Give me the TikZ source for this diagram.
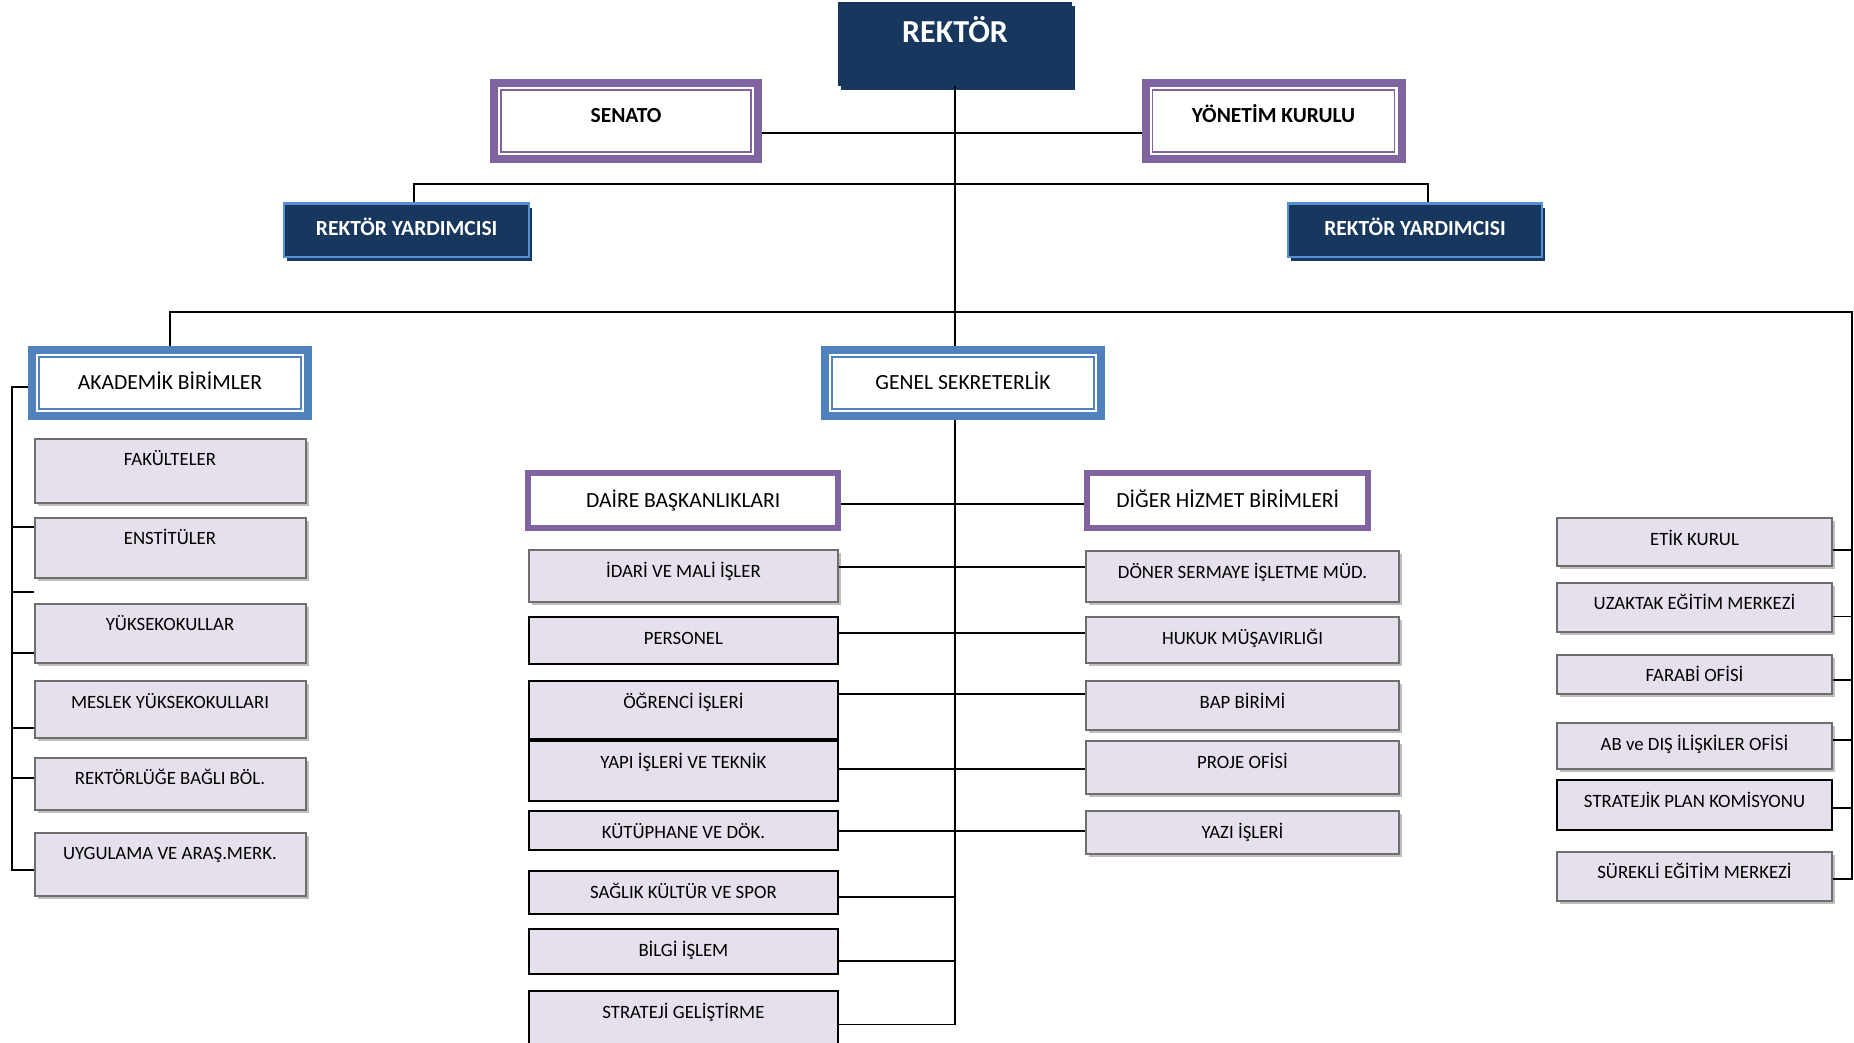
\documentclass[tikz,border=0pt]{standalone}
\usepackage{fontspec}
\setmainfont{Carlito}
\usetikzlibrary{shadows}

\definecolor{lacivert}{HTML}{17375E}
\definecolor{mor}{HTML}{8064A2}
\definecolor{mavi}{HTML}{4F81BD}
\definecolor{acikmavi}{HTML}{558ED5}
\definecolor{lavanta}{HTML}{E5E0EC}
\definecolor{gricizgi}{HTML}{6E6E6E}
\definecolor{golge}{HTML}{BFBFBF}

\tikzset{
	hat/.style={line width=1.6pt},
	kutu/.style 2 args={anchor=north, inner ysep=0pt, text height=#1pt, text depth=#2pt},
	rektorkutu/.style={fill=lacivert, text=white, font=\bfseries\fontsize{32}{38}\selectfont,
		drop shadow={shadow xshift=3pt, shadow yshift=-4pt, fill=lacivert, opacity=1}},
	yardimci/.style={fill=lacivert, draw=acikmavi, line width=2pt, text=white,
		font=\bfseries\fontsize{21.5}{26}\selectfont,
		drop shadow={shadow xshift=3pt, shadow yshift=-4pt, fill=lacivert, opacity=1}},
	kurul/.style={draw=mor, line width=8pt, fill=white, font=\bfseries\fontsize{21.5}{26}\selectfont},
	ana/.style={draw=mavi, line width=8pt, fill=white, font=\fontsize{21.6}{26}\selectfont},
	daire/.style={draw=mor, line width=6pt, fill=white, font=\fontsize{21.6}{26}\selectfont},
	sade/.style={kutu={27}{#1}, draw=black, line width=2pt, fill=lavanta, font=\fontsize{18.8}{22}\selectfont},
	birim/.style={sade=#1, draw=gricizgi,
		drop shadow={shadow xshift=3pt, shadow yshift=-3pt, fill=golge, opacity=1}},
}

\begin{document}
\begin{tikzpicture}[x=1pt, y=-1pt]
	\useasboundingbox (0,0) rectangle (1854,1043);

	% Ust kademe
	\node[rektorkutu, kutu={40.1}{43.9}, minimum width=233.5pt] (rektor) at (955,2) {REKTÖR};
	\node[kurul, kutu={39.6}{36.4}, minimum width=264.5pt] (senato) at (626,79) {SENATO};
	\node[kurul, kutu={39.6}{36.4}, minimum width=256pt] (yonetim) at (1273.5,79) {YÖNETİM KURULU};
	\node[yardimci, kutu={31.5}{21.5}, minimum width=244.5pt] (ryl) at (406.7,202.5) {REKTÖR YARDIMCISI};
	\node[yardimci, kutu={31.5}{21.5}, minimum width=254pt] (ryr) at (1415,202.5) {REKTÖR YARDIMCISI};

	% Ana birimler
	\node[ana, kutu={39.6}{26.4}, minimum width=276pt] (akademik) at (170,346) {AKADEMİK BİRİMLER};
	\node[ana, kutu={39.6}{26.4}, minimum width=276pt] (genel) at (963,346) {GENEL SEKRETERLİK};
	\node[daire, kutu={34.1}{20.6}, minimum width=310.5pt] (baskanlik) at (683.2,470) {DAİRE BAŞKANLIKLARI};
	\node[daire, kutu={34.1}{20.6}, minimum width=281.5pt] (diger) at (1227.7,470) {DİĞER HİZMET BİRİMLERİ};

	% Akademik birimler
	\node[birim=37.6, minimum width=271pt] (fak) at (170,437.7) {FAKÜLTELER};
	\node[birim=33.6, minimum width=271pt] (ens) at (170,516.7) {ENSTİTÜLER};
	\node[birim=32.3, minimum width=271pt] (yuk) at (170,602.7) {YÜKSEKOKULLAR};
	\node[birim=30.3, minimum width=271pt] (mes) at (170,680) {MESLEK YÜKSEKOKULLARI};
	\node[birim=25, minimum width=271pt] (rekb) at (170,756.7) {REKTÖRLÜĞE BAĞLI BÖL.};
	\node[birim=36, minimum width=271pt] (uyg) at (170,831.7) {UYGULAMA VE ARAŞ.MERK.};

	% Daire baskanliklari
	\node[birim=25, minimum width=309.6pt] (idari) at (683.4,549.3) {İDARİ VE MALİ İŞLER};
	\node[sade=20, minimum width=309.6pt] (personel) at (683.4,616) {PERSONEL};
	\node[sade=31, minimum width=309.6pt] (ogrenci) at (683.4,680) {ÖĞRENCİ İŞLERİ};
	\node[sade=32.7, minimum width=309.6pt] (yapi) at (683.4,740) {YAPI İŞLERİ VE TEKNİK};
	\node[sade=11.7, minimum width=309.6pt] (kutuphane) at (683.4,810) {KÜTÜPHANE VE DÖK.};
	\node[sade=16, minimum width=309.6pt] (saglik) at (683.4,870) {SAĞLIK KÜLTÜR VE SPOR};
	\node[sade=17.7, minimum width=309.6pt] (bilgi) at (683.4,928.3) {BİLGİ İŞLEM};
	\node[sade=28, minimum width=309.6pt] (strateji) at (683.4,990) {STRATEJİ GELİŞTİRME};

	% Diger hizmet birimleri
	\node[birim=23.7, minimum width=313pt] (doner) at (1242.5,550) {DÖNER SERMAYE İŞLETME MÜD.};
	\node[birim=19.3, minimum width=313pt] (hukuk) at (1242.5,616) {HUKUK MÜŞAVIRLIĞI};
	\node[birim=21.7, minimum width=313pt] (bap) at (1242.5,680) {BAP BİRİMİ};
	\node[birim=26, minimum width=313pt] (proje) at (1242.5,740) {PROJE OFİSİ};
	\node[birim=16, minimum width=313pt] (yazi) at (1242.5,810) {YAZI İŞLERİ};

	% Sag sutun
	\node[birim=20.8, minimum width=275.6pt] (etik) at (1694.5,517.2) {ETİK KURUL};
	\node[birim=22.8, minimum width=275.6pt] (uzaktak) at (1694.5,581.5) {UZAKTAK EĞİTİM MERKEZİ};
	\node[birim=12.4, minimum width=275.6pt] (farabi) at (1694.5,653.6) {FARABİ OFİSİ};
	\node[birim=18.7, minimum width=275.6pt] (ab) at (1694.5,722) {AB ve DIŞ İLİŞKİLER OFİSİ};
	\node[sade=22.8, minimum width=275.6pt] (stratejik) at (1694.5,779.2) {STRATEJİK PLAN KOMİSYONU};
	\node[birim=22, minimum width=275.6pt] (surekli) at (1694.5,850.5) {SÜREKLİ EĞİTİM MERKEZİ};

	% Ic cizgiler
	\foreach \n/\r in {senato/mor, yonetim/mor, akademik/mavi, genel/mavi}
		\draw[\r, line width=1.8pt] ([shift={(11pt,-11pt)}]\n.north west) rectangle ([shift={(-11pt,11pt)}]\n.south east);

	% Baglantilar
	\coordinate (kurulhat) at (955,133);
	\coordinate (yardhat) at (955,184);
	\coordinate (birimhat) at (955,312);
	\coordinate (sagust) at (1852,312);
	\coordinate (sagalt) at (1852,878.7);
	\coordinate (omurga) at (955,1024.3);
	\coordinate (solust) at (12,386.7);
	\coordinate (solalt) at (12,870);
	\coordinate (bos) at (12,592);

	\draw[hat] (rektor.south) -- (rektor.south |- genel.north);
	\draw[hat] (rektor.south |- genel.south) -- (omurga) -- (omurga -| strateji.east);
	\draw[hat] (kurulhat -| senato.east) -- (kurulhat -| yonetim.west);
	\draw[hat] ([xshift=7pt]ryl.north) |- (yardhat) -| ([xshift=13pt]ryr.north);
	\draw[hat] (akademik.north) |- (birimhat) -- (sagust) -- (sagalt) -- (sagalt -| surekli.east);
	\draw[hat] (solust -| akademik.west) -- (solust) -- (solalt) -- (solalt -| uyg.west);
	\draw[hat] (bos) -- (bos -| ens.west);

	\foreach \n/\y in {ens/526.7, yuk/652.7, mes/727.7, rekb/778}{
		\coordinate (sol) at (12,\y);
		\draw[hat] (sol) -- (sol -| \n.west);
	}
	\foreach \a/\b/\y in {baskanlik/diger/504, idari/doner/566.7, personel/hukuk/632.7, ogrenci/bap/694, yapi/proje/769, kutuphane/yazi/831}{
		\coordinate (orta) at (955,\y);
		\draw[hat] (orta -| \a.east) -- (orta -| \b.west);
	}
	\foreach \a/\y in {saglik/896.7, bilgi/961}{
		\coordinate (orta) at (955,\y);
		\draw[hat] (orta -| \a.east) -- (orta);
	}
	\foreach \a/\y in {etik/550, uzaktak/616.3, farabi/679.7, ab/739.8, stratejik/808}{
		\coordinate (sag) at (1852,\y);
		\draw[hat] (sag -| \a.east) -- (sag);
	}
\end{tikzpicture}
\end{document}
